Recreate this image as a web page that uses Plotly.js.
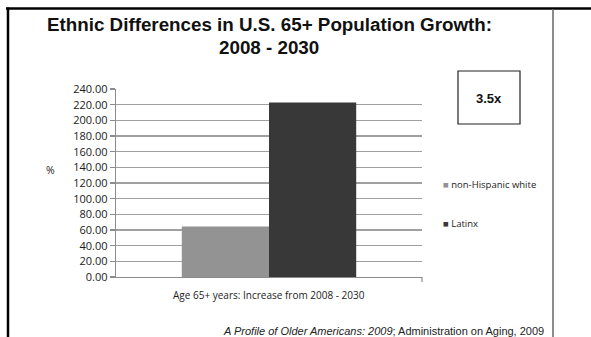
<!DOCTYPE html>
<html>
<head>
<meta charset="utf-8">
<script src="https://cdn.plot.ly/plotly-3.0.1.min.js"></script>
<style>
html,body{margin:0;padding:0;background:#fff;}
#chart{width:591px;height:337px;}
</style>
</head>
<body>
<div id="chart"></div>
<script>
// ---- data ----
const category = ['Age 65+ years: Increase from 2008 - 2030'];
const seriesNames = ['non-Hispanic white', 'Latinx'];
const whiteValues = [64.6];
const latinxValues = [222.8];
const seriesColors = ['#939393', '#383838'];
const ratioLabel = '3.5x';
const titleLines = ['Ethnic Differences in U.S. 65+ Population Growth:', '2008 - 2030'];
const sourceText = '<i>A Profile of Older Americans: 2009</i>; Administration on Aging, 2009';

// ---- layout helpers (pixel -> paper) ----
const W = 591, H = 337;
const L = 116, R = 422, T = 89, B = 277;
const px = x => (x - L) / (R - L);
const py = y => (B - y) / (B - T);

const traces = [
  {type: 'bar', x: category, y: whiteValues, name: seriesNames[0],
   marker: {color: seriesColors[0], line: {width: 0}}},
  {type: 'bar', x: category, y: latinxValues, name: seriesNames[1],
   marker: {color: seriesColors[1], line: {width: 0}}}
];

const titleFont = {family: 'Liberation Sans, Arial', size: 18.8, color: '#111', weight: 'bold'};
const legendY = [184, 223];

const annotations = [
  {text: titleLines[0], xref: 'paper', yref: 'paper', x: px(269), y: py(25), showarrow: false,
   xanchor: 'center', yanchor: 'middle', font: titleFont},
  {text: titleLines[1], xref: 'paper', yref: 'paper', x: px(269), y: py(47), showarrow: false,
   xanchor: 'center', yanchor: 'middle', font: titleFont},
  {text: ratioLabel, xref: 'paper', yref: 'paper', x: px(489), y: py(98), showarrow: false,
   xanchor: 'center', yanchor: 'middle',
   font: {family: 'Liberation Sans, Arial', size: 13, color: '#111', weight: 'bold'}},
  {text: '%', xref: 'paper', yref: 'paper', x: px(50), y: py(170), showarrow: false,
   xanchor: 'center', yanchor: 'middle',
   font: {family: 'Open Sans', size: 10.5, color: '#222'}},
  {text: category[0], xref: 'paper', yref: 'paper', x: px(269), y: py(295), showarrow: false,
   xanchor: 'center', yanchor: 'middle',
   font: {family: 'Open Sans', size: 10, color: '#222'}},
  {text: sourceText, xref: 'paper', yref: 'paper', x: px(546), y: py(331), showarrow: false,
   xanchor: 'right', yanchor: 'middle',
   font: {family: 'Liberation Sans, Arial', size: 11, color: '#222'}}
];
// legend entries built from the series names and colours
seriesNames.forEach((n, i) => {
  annotations.push({
    text: '<span style="color:' + seriesColors[i] + '">■</span> ' + n,
    xref: 'paper', yref: 'paper', x: px(441), y: py(legendY[i]), showarrow: false,
    xanchor: 'left', yanchor: 'middle',
    font: {family: 'Open Sans', size: 9.5, color: '#222'}
  });
});

const layout = {
  width: W, height: H,
  margin: {l: L, r: W - R, t: T, b: H - B, pad: 0},
  paper_bgcolor: '#fff', plot_bgcolor: '#fff',
  barmode: 'group', bargap: 0.43, bargroupgap: 0,
  showlegend: false,
  xaxis: {showgrid: false, showline: true, linecolor: '#8c8c8c', linewidth: 1.2,
          ticks: '', showticklabels: false, fixedrange: true},
  yaxis: {range: [0, 240], dtick: 20, tick0: 0, tickformat: '.2f',
          showgrid: true, gridcolor: '#a0a0a0', gridwidth: 1.3,
          showline: true, linecolor: '#8c8c8c', linewidth: 1.2,
          ticks: 'outside', ticklen: 5, tickcolor: '#8c8c8c', tickwidth: 1.2,
          tickfont: {family: 'Open Sans', size: 11, color: '#1a1a1a'},
          zeroline: false, fixedrange: true},
  shapes: [
    {type: 'line', xref: 'paper', yref: 'paper', x0: px(6), x1: px(W + 2), y0: py(8.5), y1: py(8.5),
     line: {color: '#000', width: 2.5}},
    {type: 'line', xref: 'paper', yref: 'paper', x0: px(8), x1: px(8), y0: py(7.5), y1: py(H + 2),
     line: {color: '#000', width: 2.5}},
    {type: 'line', xref: 'paper', yref: 'paper', x0: px(553), x1: px(553), y0: py(9), y1: py(H + 2),
     line: {color: '#666', width: 1.5}},
    {type: 'line', xref: 'paper', yref: 'paper', x0: 1, x1: 1, y0: 0, y1: py(282),
     line: {color: '#8c8c8c', width: 1.2}},
    {type: 'rect', xref: 'paper', yref: 'paper', x0: px(458), x1: px(520), y0: py(71), y1: py(124),
     line: {color: '#222', width: 1.2}, fillcolor: 'rgba(0,0,0,0)'}
  ],
  annotations: annotations
};

Plotly.newPlot('chart', traces, layout, {staticPlot: true, displayModeBar: false});
</script>
</body>
</html>
